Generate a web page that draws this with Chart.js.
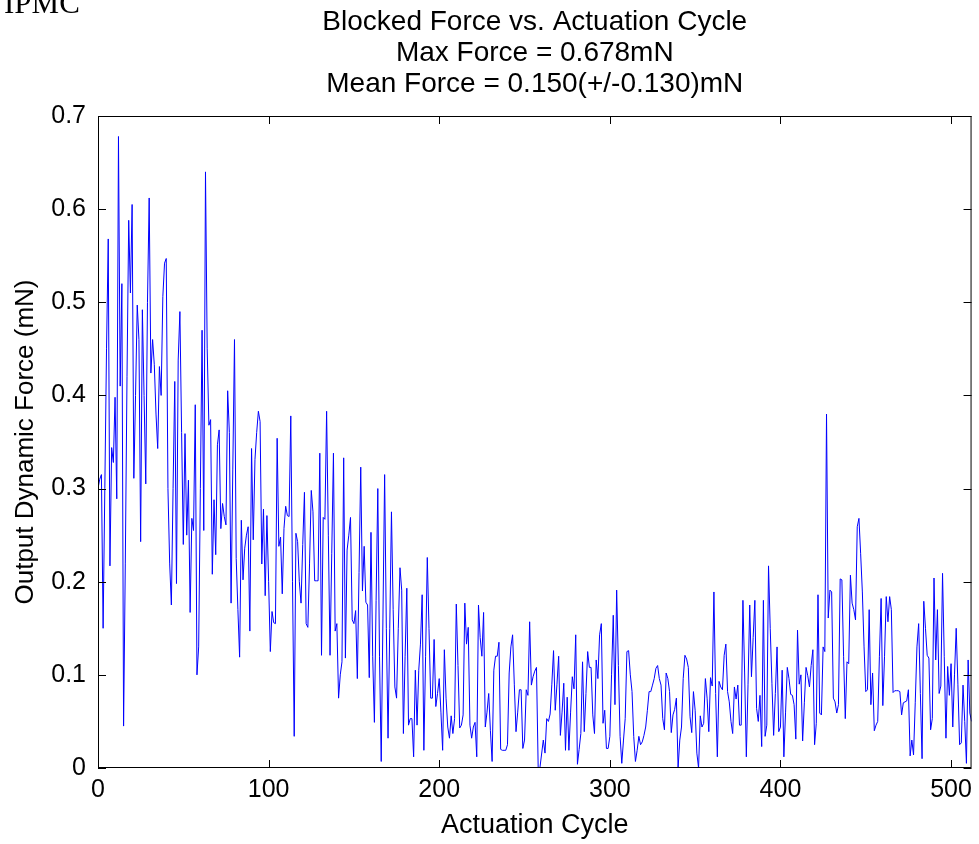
<!DOCTYPE html>
<html>
<head>
<meta charset="utf-8">
<script src="https://cdn.jsdelivr.net/npm/chart.js@4.4.0/dist/chart.umd.min.js"></script>
<style>
  html, body { margin: 0; padding: 0; background: #fff; }
  #wrap { width: 979px; height: 844px; }
</style>
</head>
<body>
<div id="wrap"><canvas id="forceChart" width="979" height="844"></canvas></div>
<script>
// Title lines and axis labels
const titleLines = [
  "Blocked Force vs. Actuation Cycle",
  "Max Force = 0.678mN",
  "Mean Force = 0.150(+/-0.130)mN"
];
const xTitle = "Actuation Cycle";
const yTitle = "Output Dynamic Force (mN)";
const cornerText = "IPMC";

// Tick values
const xTicks = [0, 100, 200, 300, 400, 500];
const yTicks = [0, 0.1, 0.2, 0.3, 0.4, 0.5, 0.6, 0.7];

// Output force per actuation cycle (mN), cycles 0..512
const force = [
  0.300,0.310,0.315,0.150,0.300,0.450,0.568,0.217,0.344,0.328,
  0.398,0.289,0.678,0.410,0.520,0.045,0.220,0.420,0.588,0.510,
  0.605,0.311,0.400,0.497,0.460,0.243,0.492,0.400,0.305,0.500,
  0.612,0.424,0.460,0.433,0.380,0.343,0.431,0.400,0.506,0.542,
  0.547,0.300,0.220,0.175,0.300,0.415,0.198,0.438,0.490,
  0.360,0.240,0.359,0.250,0.309,0.167,0.268,0.255,0.390,0.100,
  0.130,0.300,0.470,0.255,0.640,0.450,0.368,0.374,0.208,0.288,
  0.229,0.347,0.363,0.257,0.284,0.270,0.261,0.405,0.360,0.177,
  0.320,0.460,0.225,0.170,0.119,0.266,0.202,0.236,0.250,0.259,
  0.147,0.343,0.245,0.331,0.360,0.383,
  0.372,0.219,0.278,0.185,0.271,0.200,0.125,0.168,0.156,0.155,
  0.354,0.238,0.248,0.187,0.257,0.281,0.271,0.270,0.378,0.200,
  0.034,0.252,0.243,0.200,0.177,0.240,0.296,0.155,0.151,0.220,
  0.298,0.275,0.201,0.201,0.201,0.338,0.121,0.269,0.267,0.383,
  0.250,0.121,0.230,0.338,0.147,0.155,0.075,
  0.100,0.114,0.333,0.118,0.234,0.250,0.269,0.159,0.155,0.169,
  0.096,0.210,0.323,0.190,0.238,0.178,0.175,0.097,0.253,0.120,
  0.049,0.180,0.300,0.120,0.007,0.160,0.315,0.150,0.032,0.150,
  0.275,0.170,0.087,0.075,0.150,0.215,0.191,0.037,0.120,0.193,
  0.046,0.053,0.053,0.012,0.105,0.046,0.105,
  0.133,0.186,0.019,0.120,0.226,0.150,0.075,0.075,0.138,0.066,
  0.080,0.096,0.060,0.019,0.127,0.075,0.044,0.032,0.056,0.037,
  0.053,0.176,0.110,0.043,0.046,0.057,0.177,0.133,0.151,0.046,
  0.032,0.044,0.049,0.012,0.175,0.140,0.120,0.167,0.044,0.060,
  0.080,0.040,0.007,0.105,0.120,0.120,
  0.135,0.020,0.019,0.019,0.019,0.025,0.102,0.130,0.143,0.090,
  0.039,0.060,0.084,0.084,0.021,0.030,0.084,0.078,0.157,0.089,
  0.098,0.104,0.108,0.000,0.000,0.015,0.030,0.016,0.053,0.050,
  0.058,0.090,0.126,0.062,0.090,0.120,0.035,0.060,0.091,0.019,
  0.076,0.019,0.060,0.098,0.085,0.143,
  0.004,0.020,0.037,0.114,0.039,0.080,0.125,0.108,0.108,0.057,
  0.037,0.116,0.096,0.143,0.155,0.048,0.062,0.021,0.021,0.034,
  0.100,0.164,0.068,0.191,0.110,0.034,0.005,0.030,0.053,0.125,
  0.126,0.100,0.082,0.034,0.007,0.019,0.034,0.025,0.028,0.035,
  0.044,0.062,0.082,0.082,0.089,0.096,0.107,
  0.110,0.096,0.089,0.053,0.041,0.102,0.096,0.082,0.038,0.057,
  0.063,0.075,0.000,0.030,0.044,0.096,0.121,0.117,0.108,0.055,
  0.038,0.082,0.062,0.016,0.000,0.056,0.044,0.048,0.096,0.075,
  0.039,0.097,0.088,0.189,0.080,0.012,0.093,0.087,0.084,0.121,
  0.133,0.082,0.071,0.050,0.037,0.087,0.074,0.089,
  0.046,0.046,0.180,0.102,0.012,0.090,0.175,0.098,0.140,0.180,
  0.064,0.050,0.078,0.023,0.180,0.034,0.046,0.217,0.150,0.091,
  0.035,0.080,0.130,0.039,0.044,0.105,0.012,0.060,0.108,0.096,
  0.079,0.078,0.068,0.031,0.148,0.090,0.100,0.029,0.070,0.108,
  0.099,0.087,0.110,0.127,0.025,0.048,
  0.186,0.059,0.057,0.130,0.125,0.380,0.161,0.191,0.189,0.075,
  0.071,0.059,0.068,0.203,0.202,0.120,0.053,0.114,0.112,0.207,
  0.177,0.170,0.159,0.259,0.268,0.230,0.189,0.130,0.082,0.084,
  0.170,0.068,0.102,0.040,0.046,0.050,0.120,0.182,0.067,0.120,
  0.184,0.157,0.184,0.170,0.081,0.083,0.083,0.083,
  0.082,0.057,0.070,0.071,0.072,0.084,0.013,0.030,0.014,0.070,
  0.130,0.155,0.080,0.010,0.179,0.150,0.121,0.118,0.041,0.053,
  0.204,0.116,0.170,0.080,0.088,0.209,0.120,0.032,0.109,0.078,
  0.112,0.044,0.100,0.150,0.090,0.025,0.027,0.089,0.050,0.005,
  0.116,0.059,0.050
];

const FONT = '"Liberation Sans", Arial, sans-serif';

// MATLAB-style box, inward ticks, title and corner text
const framePlugin = {
  id: 'framePlugin',
  afterDatasetsDraw(chart) {
    const { ctx, chartArea: a, scales: { x, y } } = chart;
    const tl = 8;
    ctx.save();
    ctx.strokeStyle = '#000';
    ctx.lineWidth = 1;
    ctx.strokeRect(a.left + 0.5, a.top + 0.5, a.right - a.left - 1, a.bottom - a.top - 1);
    ctx.beginPath();
    xTicks.forEach(v => {
      const px = Math.round(x.getPixelForValue(v)) + 0.5;
      ctx.moveTo(px, a.bottom); ctx.lineTo(px, a.bottom - tl);
      ctx.moveTo(px, a.top); ctx.lineTo(px, a.top + tl);
    });
    yTicks.forEach(v => {
      const py = Math.round(y.getPixelForValue(v)) + 0.5;
      ctx.moveTo(a.left, py); ctx.lineTo(a.left + tl, py);
      ctx.moveTo(a.right, py); ctx.lineTo(a.right - tl, py);
    });
    ctx.stroke();

    ctx.fillStyle = '#000';
    ctx.font = '28px ' + FONT;
    ctx.textAlign = 'center';
    ctx.textBaseline = 'middle';
    const cx = (a.left + a.right) / 2;
    titleLines.forEach((t, i) => ctx.fillText(t, cx, 22 + i * 31));

    ctx.font = '31px "Liberation Serif", "Times New Roman", serif';
    ctx.textAlign = 'left';
    ctx.textBaseline = 'alphabetic';
    ctx.fillText(cornerText, 4, 13);
    ctx.restore();
  }
};

new Chart(document.getElementById('forceChart'), {
  type: 'line',
  data: {
    datasets: [{
      data: force.map((v, i) => ({ x: i, y: v })),
      borderColor: '#0000ff',
      borderWidth: 1,
      pointRadius: 0,
      tension: 0,
      fill: false
    }]
  },
  options: {
    responsive: false,
    animation: false,
    devicePixelRatio: 1,
    layout: { padding: { top: 116, right: 3, left: 0, bottom: 0 } },
    plugins: {
      legend: { display: false },
      tooltip: { enabled: false },
      title: { display: false }
    },
    scales: {
      x: {
        type: 'linear',
        min: 0,
        max: 512,
        afterBuildTicks: s => { s.ticks = xTicks.map(v => ({ value: v })); },
        afterFit: s => { s.height = 76; },
        grid: { display: false, drawTicks: false },
        border: { display: false },
        ticks: { color: '#000', padding: 7, maxRotation: 0, font: { family: FONT, size: 25 } },
        title: { display: true, text: xTitle, color: '#000', padding: { top: 0, bottom: 2 }, font: { family: FONT, size: 27 } }
      },
      y: {
        min: 0,
        max: 0.7,
        afterBuildTicks: s => { s.ticks = yTicks.map(v => ({ value: v })); },
        afterFit: s => { s.width = 98; },
        grid: { display: false, drawTicks: false },
        border: { display: false },
        ticks: { color: '#000', padding: 12, font: { family: FONT, size: 25 } },
        title: { display: true, text: yTitle, color: '#000', padding: { top: 10, bottom: 0 }, font: { family: FONT, size: 26 } }
      }
    }
  },
  plugins: [framePlugin]
});
</script>
</body>
</html>
